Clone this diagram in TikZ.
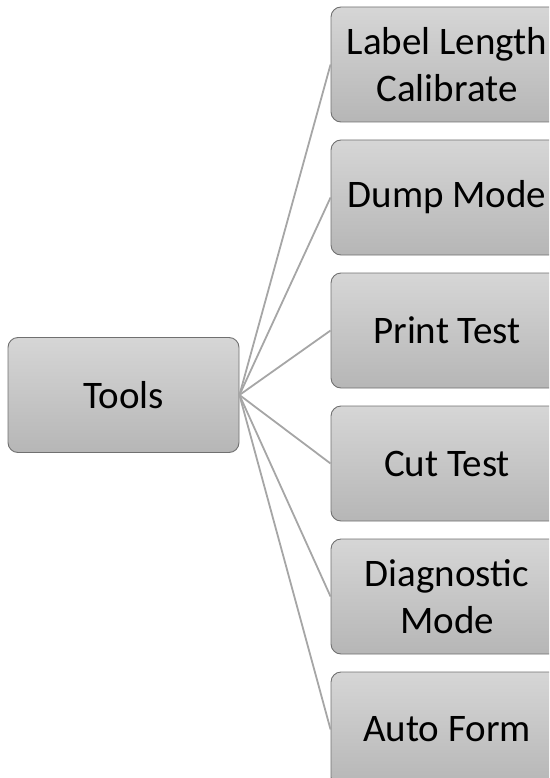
\documentclass[tikz,border=0pt]{standalone}
\usepackage{fontspec}
\setmainfont{Carlito}
\definecolor{boxtop}{HTML}{D6D6D6}
\definecolor{boxbot}{HTML}{B6B6B6}
\definecolor{boxline}{HTML}{707070}
\definecolor{conn}{HTML}{A6A6A6}
\begin{document}
\begin{tikzpicture}[x=1pt,y=-1pt,
  box/.style={draw=boxline,line width=0.9pt,rounded corners=10pt,top color=boxtop,bottom color=boxbot,
    minimum height=115pt,inner sep=0pt,align=center,
    font=\fontsize{39}{47}\selectfont},
  leaf/.style={box,minimum width=232pt},
  root/.style={box,minimum width=231pt},
  link/.style={draw=conn,line width=1.8pt}]
\useasboundingbox (0,0) rectangle (549,778);
\begin{scope}
\clip (0,0) rectangle (549,778);
\node[root] (tools) at (123.5,395) {Tools};
\node[leaf] (l1) at (447,64.5) {Label Length\\Calibrate};
\node[leaf] (l2) at (447,197.5) {Dump Mode};
\node[leaf] (l3) at (447,330.5) {Print Test};
\node[leaf] (l4) at (447,463.5) {Cut Test};
\node[leaf] (l5) at (447,596.5) {Diagnostic\\Mode};
\node[leaf] (l6) at (447,729.5) {Auto Form};
\foreach \n in {l1,l2,l3,l4,l5,l6}
  \draw[link] (tools.east) -- (\n.west);
\end{scope}
\end{tikzpicture}
\end{document}
